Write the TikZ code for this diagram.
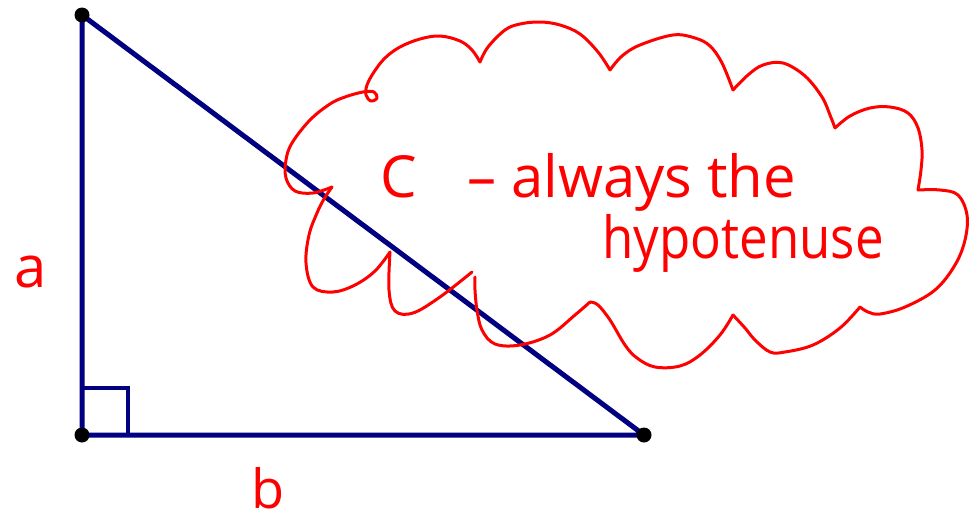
\documentclass[tikz,border=0pt]{standalone}
\usepackage{fontspec}
\setmainfont{Open Sans}
\definecolor{navy}{HTML}{000080}
\definecolor{penred}{HTML}{FF0000}
\newcommand{\hand}{\fontsize{58}{58}\selectfont}

\begin{document}
\begin{tikzpicture}[
  x=1pt, y=-1pt,
  side/.style={draw=navy, line width=5pt, line join=round},
  rightangle/.style={draw=navy, line width=3.5pt},
  vertex/.style={fill=black},
  pen/.style={draw=penred, line width=3pt, line cap=round, line join=round},
  note/.style={text=penred, font=\hand, inner sep=0pt}
]
  \useasboundingbox (0,0) rectangle (978,522);

  % triangle
  \coordinate (top) at (82,15);
  \coordinate (corner) at (82,435);
  \coordinate (right) at (644,435);
  \draw[side] (top) -- (corner) -- (right) -- cycle;
  \draw[rightangle] (corner) ++(0,-47) -| ++(46,47);
  \fill[vertex] (top) circle[radius=7.5pt];
  \fill[vertex] (corner) circle[radius=7.5pt];
  \fill[vertex] (right) circle[radius=7.5pt];

  % side names
  \node[note, anchor=base] (sidea) at (31,287) {a};
  \node[note, anchor=base, font=\fontsize{54}{54}\selectfont] (sideb) at (268,508) {b};

  % cloud
  \draw[pen] plot[smooth, tension=0.6] coordinates {(472,272) (440,297) (413,313) (395,311) (389,290) (390,252)};
  \draw[pen] plot[smooth, tension=0.6] coordinates {(390,252) (375,271) (355,285) (333,292) (313,287) (306,263) (309,235) (317,213) (324,199) (332,187)};
  \draw[pen] plot[smooth, tension=0.6] coordinates {(332,187) (313,193) (295,191) (286,178) (286,160) (292,143) (310,120) (330,104) (345,97) (363,92) (374,92) (377,98) (371,101) (366,95) (367,85) (374,72) (385,58) (400,47) (420,39) (440,36) (460,41) (472,50) (480,62)};
  \draw[pen] plot[smooth, tension=0.6] coordinates {(480,62) (488,47) (505,30) (520,24) (540,22) (560,25) (580,34) (598,52) (610,70)};
  \draw[pen] plot[smooth, tension=0.6] coordinates {(610,70) (622,56) (640,45) (673,35) (695,38) (710,46) (722,63) (733,90)};
  \draw[pen] plot[smooth, tension=0.6] coordinates {(733,90) (748,75) (763,65) (783,63) (805,76) (822,97) (830,115) (835,128)};
  \draw[pen] plot[smooth, tension=0.6] coordinates {(835,128) (850,116) (870,108) (890,107) (908,113) (918,128) (922,150) (921,170) (918,190)};
  \draw[pen] plot[smooth, tension=0.6] coordinates {(918,190) (940,190) (958,195) (967,215) (965,240) (955,265) (935,290) (905,307) (880,314) (868,312) (860,307)};
  \draw[pen] plot[smooth, tension=0.6] coordinates {(860,307) (840,328) (813,345) (785,352) (770,352) (755,340) (745,328) (733,315)};
  \draw[pen] plot[smooth, tension=0.6] coordinates {(733,315) (720,335) (700,355) (680,366) (655,367) (637,358) (625,345) (610,320) (598,305) (590,302)};
  \draw[pen] plot[smooth, tension=0.6] coordinates {(590,302) (575,315) (550,335) (520,345) (495,344) (482,330) (477,310) (475,290) (475,277)};

  % note in the cloud
  \node[note, anchor=base] (hyp) at (399,197) {C};
  \node[note, anchor=base west] (always) at (467,197) {– always the};
  \node[note, anchor=base] (hypword) at (743,258) {\scalebox{0.88}[1]{hypotenuse}};
\end{tikzpicture}
\end{document}
